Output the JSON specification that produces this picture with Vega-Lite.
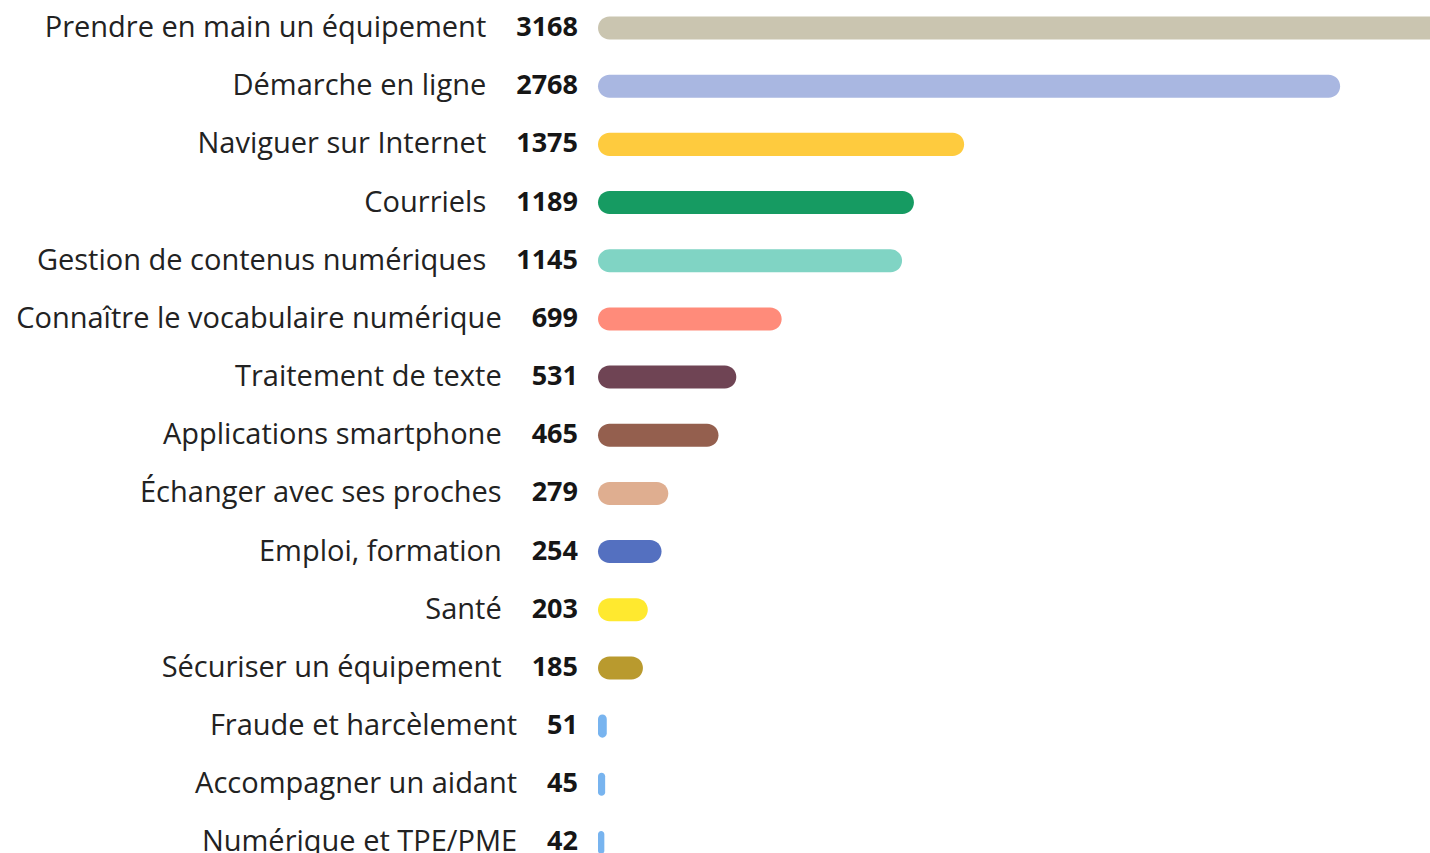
{
  "$schema": "https://vega.github.io/schema/vega-lite/v6.json",
  "autosize": {"type": "none"},
  "padding": {"left": 593, "top": 0, "right": 0, "bottom": 0},
  "width": 837,
  "height": 853,
  "background": "white",
  "config": {"view": {"stroke": null}},
  "data": {
    "values": [
      {"theme": "Prendre en main un équipement", "n": 3168},
      {"theme": "Démarche en ligne", "n": 2768},
      {"theme": "Naviguer sur Internet", "n": 1375},
      {"theme": "Courriels", "n": 1189},
      {"theme": "Gestion de contenus numériques", "n": 1145},
      {"theme": "Connaître le vocabulaire numérique", "n": 699},
      {"theme": "Traitement de texte", "n": 531},
      {"theme": "Applications smartphone", "n": 465},
      {"theme": "Échanger avec ses proches", "n": 279},
      {"theme": "Emploi, formation", "n": 254},
      {"theme": "Santé", "n": 203},
      {"theme": "Sécuriser un équipement", "n": 185},
      {"theme": "Fraude et harcèlement", "n": 51},
      {"theme": "Accompagner un aidant", "n": 45},
      {"theme": "Numérique et TPE/PME", "n": 42}
    ]
  },
  "encoding": {
    "y": {
      "field": "theme",
      "type": "nominal",
      "sort": null,
      "axis": null,
      "scale": {"range": [1.5, 869], "paddingInner": 0.604, "paddingOuter": 0.258}
    }
  },
  "layer": [
    {
      "mark": {"type": "bar", "cornerRadius": 11.5, "clip": true, "x2Offset": 5},
      "encoding": {
        "x": {"field": "n", "type": "quantitative", "axis": null, "scale": {"domain": [0, 3101], "nice": false, "zero": false}},
        "x2": {"datum": 0},
        "color": {
          "field": "theme",
          "type": "nominal",
          "legend": null,
          "scale": {
            "domain": ["Prendre en main un équipement", "Démarche en ligne", "Naviguer sur Internet", "Courriels", "Gestion de contenus numériques", "Connaître le vocabulaire numérique", "Traitement de texte", "Applications smartphone", "Échanger avec ses proches", "Emploi, formation", "Santé", "Sécuriser un équipement", "Fraude et harcèlement", "Accompagner un aidant", "Numérique et TPE/PME"],
            "range": ["#cac5b0", "#a9b7e1", "#fecb3e", "#169b62", "#80d4c4", "#ff8b7a", "#6f4454", "#945f4e", "#dfae90", "#5470c0", "#ffe92f", "#b99a2e", "#78b4ef", "#78b4ef", "#78b4ef"]
          }
        }
      }
    },
    {
      "mark": {"type": "text", "align": "right", "baseline": "middle", "dx": -15, "font": "Open Sans", "fontSize": 27, "fontWeight": "bold", "color": "#161616"},
      "encoding": {
        "x": {"datum": 0},
        "text": {"field": "n", "type": "quantitative", "format": "d"}
      }
    },
    {
      "mark": {"type": "text", "align": "right", "baseline": "middle", "dx": {"expr": "-45 - 15.44*length(toString(datum.n))"}, "font": "Open Sans", "fontSize": 29, "color": "#222222"},
      "encoding": {
        "x": {"datum": 0},
        "text": {"field": "theme", "type": "nominal"}
      }
    }
  ]
}
